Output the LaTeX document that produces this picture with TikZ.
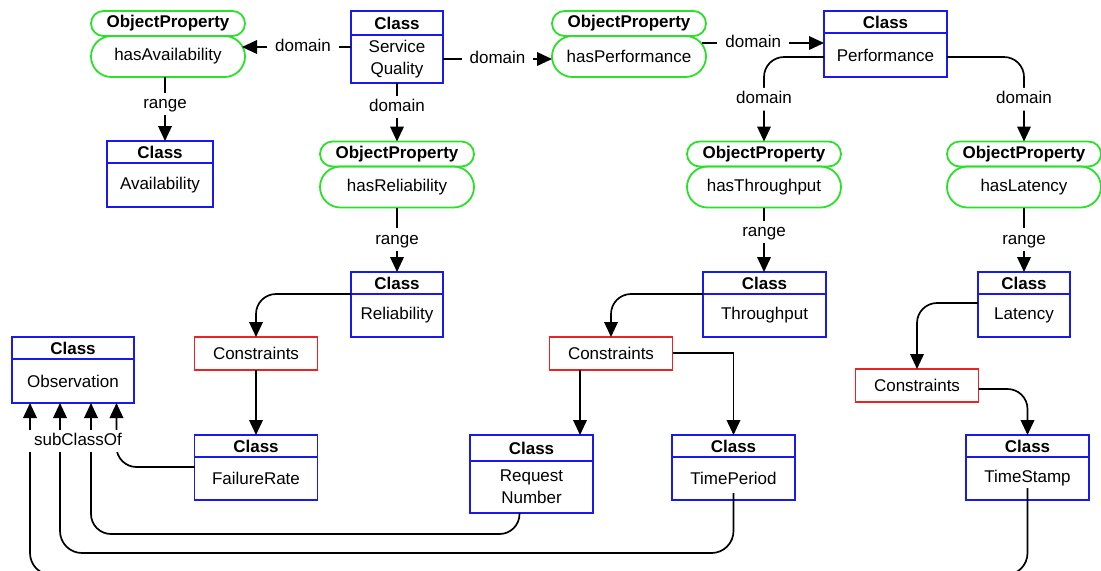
\documentclass[tikz,border=0pt]{standalone}
\usepackage{fontspec}
\setmainfont{Liberation Sans}
\usetikzlibrary{arrows.meta,shapes.misc,calc}

\definecolor{clsblue}{RGB}{25,25,235}
\definecolor{opgreen}{RGB}{40,225,40}
\definecolor{conred}{RGB}{235,35,35}

% one drawing unit
\newcommand\upx{0.5pt}

\tikzset{
  base/.style={font=\fontsize{8.5}{11}\selectfont, inner sep=0pt, outer sep=0pt, line width=0.9pt},
  clshead/.style={base, draw=clsblue, font={\fontsize{8.5}{11}\selectfont\bfseries}},
  clsbody/.style={base, draw=clsblue, align=center},
  ophead/.style={base, rounded rectangle, draw=opgreen, font={\fontsize{8.5}{11}\selectfont\bfseries},
    minimum width=154*\upx, minimum height=25*\upx},
  opbody/.style={base, rounded rectangle, draw=opgreen, minimum width=154*\upx, minimum height=41*\upx},
  consbox/.style={base, draw=conred, minimum width=123*\upx, minimum height=33*\upx},
  link/.style={line width=0.85pt, -{Triangle[length=7.5pt,width=6.8pt]}},
  lbl/.style={fill=white, font=\fontsize{8.5}{11}\selectfont, inner xsep=4pt, inner ysep=1.5pt,
    text height=6.5pt, text depth=1.8pt},
}

% class box: name, centre x, top y, width, header height, body height, body text
\newcommand\umlclass[7]{%
  \node[clshead, minimum width=#4*\upx, minimum height=#5*\upx, anchor=north] (#1h) at (#2,#3) {Class};
  \node[clsbody, minimum width=#4*\upx, minimum height=#6*\upx, anchor=north] (#1) at (#1h.south) {#7};
}
% object property: name, centre x, top y, property name
\newcommand\objprop[4]{%
  \node[ophead, anchor=north] (#1h) at (#2,#3) {ObjectProperty};
  \node[opbody, anchor=north] (#1) at (#1h.south) {#4};
}

\begin{document}
\begin{tikzpicture}[x=0.5pt, y=-0.5pt]
\useasboundingbox (0,0) rectangle (1101,570);

% object properties
\objprop{hav}{168}{11}{hasAvailability}
\objprop{hp}{629}{11}{hasPerformance}
\objprop{hrel}{397}{141.5}{hasReliability}
\objprop{hthr}{764}{141.5}{hasThroughput}
\objprop{hlat}{1024}{141.5}{hasLatency}

% classes
\umlclass{sq}{397}{11}{92}{24}{48}{Service\\Quality}
\umlclass{perf}{885.5}{11}{123}{22}{44}{Performance}
\umlclass{avail}{160}{141}{106}{22}{44}{Availability}
\umlclass{rel}{397}{272}{92}{22}{43}{Reliability}
\umlclass{thr}{764.5}{272}{123}{22}{43}{Throughput}
\umlclass{lat}{1024}{272}{92}{22}{43}{Latency}
\umlclass{obs}{73}{337}{122}{22}{44}{Observation}
\umlclass{fr}{256}{435}{123}{22}{43}{FailureRate}
\umlclass{rn}{531.5}{435}{123}{26}{52}{Request\\Number}
\umlclass{tp}{733.5}{435}{123}{22}{43}{TimePeriod}
\umlclass{ts}{1027.5}{435}{123}{22}{43}{TimeStamp}

% constraints
\node[consbox] (c1) at (256,353.5) {Constraints};
\node[consbox] (c2) at (611,353.5) {Constraints};
\node[consbox] (c3) at (917,385.5) {Constraints};

% domain / range links
\draw[link] ([yshift=6pt]sq.west) -- ([yshift=6pt,xshift=-1.5pt]sq.west -| hav.east)
  node[lbl,pos=0.44] {domain};
\draw[link] (sq.east) -- (sq.east -| hp.west) node[lbl,midway] {domain};
\draw[link] ([xshift=-2pt,yshift=6.75pt]hp.east) -- ([yshift=6.75pt]hp.east -| perf.west)
  node[lbl,pos=0.42] {domain};
\draw[link, rounded corners=10pt] ([yshift=-1pt]perf.west) -| (hthrh.north) node[lbl,pos=0.75] {domain};
\draw[link, rounded corners=10pt] ([yshift=-1pt]perf.east) -| (hlath.north) node[lbl,pos=0.75] {domain};
\draw[link] ([xshift=-1.5pt]hav.south) -- ([xshift=-1.5pt]hav.south |- availh.north)
  node[lbl,pos=0.42] {range};
\draw[link] (sq.south) -- (hrelh.north) node[lbl,pos=0.41] {domain};
\draw[link] (hrel.south) -- (relh.north) node[lbl,pos=0.5] {range};
\draw[link] (hthr.south) -- (hthr.south |- thrh.north) node[lbl,pos=0.38] {range};
\draw[link] (hlat.south) -- (hlat.south |- lath.north) node[lbl,pos=0.5] {range};

% constraint links
\draw[link, rounded corners=10pt] (relh.south west) -| (c1.north);
\draw[link] (c1.south) -- (frh.north);
\draw[link, rounded corners=10pt] (thrh.south west) -| (c2.north);
\draw[link] ([xshift=-15.5pt]c2.south) -- ([xshift=-15.5pt]c2.south |- rnh.north);
\draw[link] ([yshift=0.25pt]c2.east) -| (tph.north);
\draw[link, rounded corners=10pt] ([yshift=6.25pt]lat.west) -| (c3.north);
\draw[link, rounded corners=10pt] ([yshift=-1.75pt]c3.east) -| (tsh.north);

% subclass links
\draw[link, rounded corners=10pt] ([yshift=5.75pt]fr.west) -| ([xshift=21.75pt]obs.south);
\draw[link, rounded corners=10pt] ([xshift=-6pt]rn.south) -- ++(0,-10.5pt) -| ([xshift=9pt]obs.south);
\draw[link, rounded corners=11pt] ([yshift=3.5pt]tp.south) -- ++(0,-30pt) -| ([xshift=-6.5pt]obs.south);
\draw[link, rounded corners=11pt] ([yshift=6pt]ts.south) -- ++(0,-43.5pt) -| ([xshift=-21.5pt]obs.south);
\node[lbl] (subof) at (78,441) {subClassOf};

\end{tikzpicture}
\end{document}
